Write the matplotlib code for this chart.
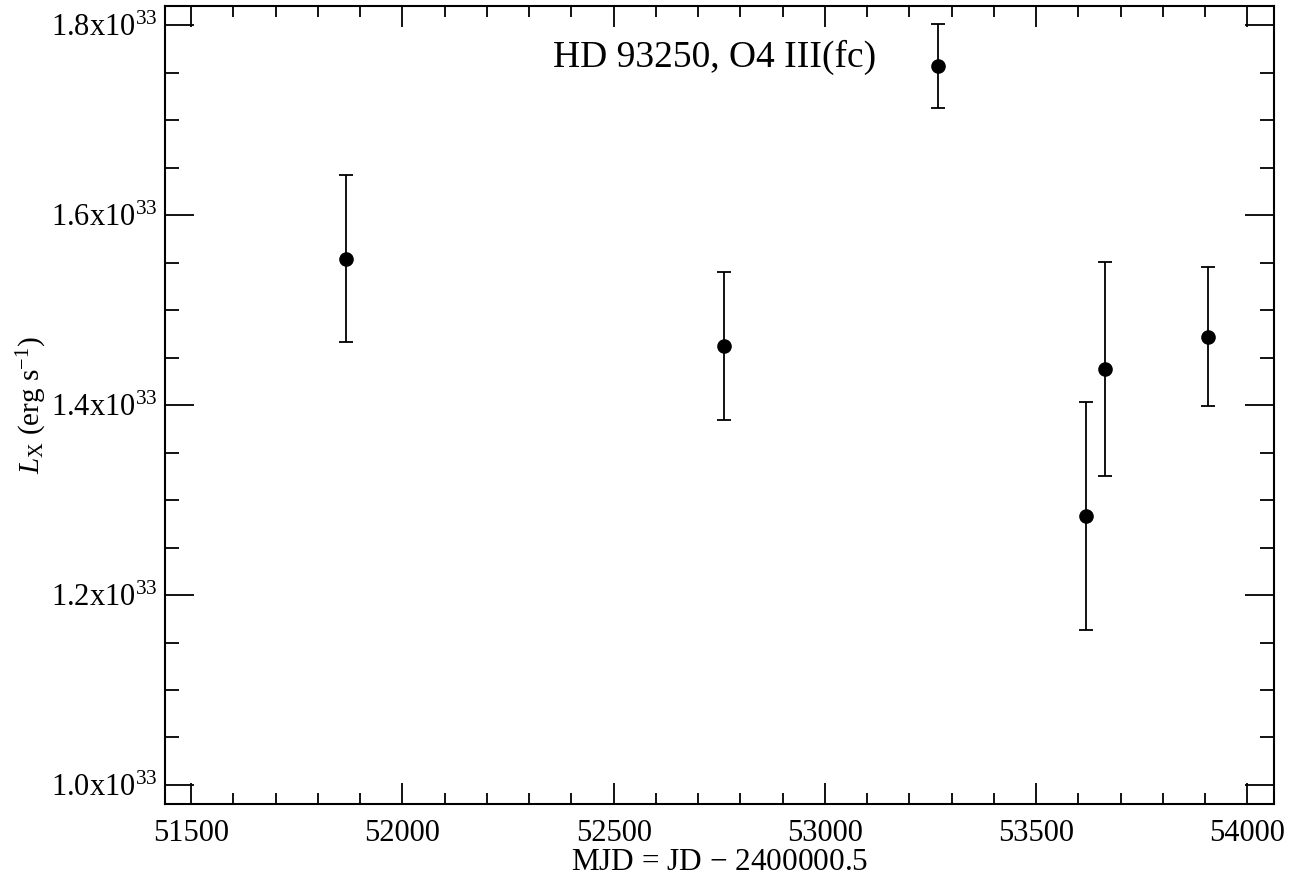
import matplotlib
matplotlib.use('Agg')
import matplotlib.pyplot as plt
from matplotlib.ticker import MultipleLocator, FuncFormatter

plt.rcParams['font.family'] = 'Liberation Serif'
plt.rcParams['mathtext.fontset'] = 'custom'
plt.rcParams['mathtext.rm'] = 'Liberation Serif'
plt.rcParams['mathtext.it'] = 'Liberation Serif:italic'

# Данные: MJD, L_X (1e33 erg/s) и ошибки
mjd = [51866, 52761, 53268, 53618, 53663, 53907]
lx = [1.554, 1.462, 1.757, 1.283, 1.438, 1.472]
lx_err = [0.088, 0.078, 0.044, 0.120, 0.113, 0.073]

fig = plt.figure(figsize=(12.96, 8.88), dpi=100)
ax = fig.add_axes([0.1273, 0.0946, 0.983 - 0.1273, 0.9932 - 0.0946])

ax.errorbar(mjd, lx, yerr=lx_err, fmt='o', color='black', markersize=9.5,
            elinewidth=1.3, capsize=5, capthick=1.3)

ax.set_xlim(51438, 54063)
ax.set_ylim(0.98, 1.82)

ax.xaxis.set_major_locator(MultipleLocator(500))
ax.xaxis.set_minor_locator(MultipleLocator(100))
ax.yaxis.set_major_locator(MultipleLocator(0.2))
ax.yaxis.set_minor_locator(MultipleLocator(0.05))
ax.yaxis.set_major_formatter(FuncFormatter(lambda v, p: '%.1fx10$^{33}$' % v))

ax.tick_params(which='both', direction='in', top=True, right=True,
               labelsize=22, width=1.3)
ax.tick_params(axis='x', which='major', length=15, pad=11)
ax.tick_params(axis='x', which='minor', length=8)
ax.tick_params(axis='y', which='major', length=21, pad=5)
ax.tick_params(axis='y', which='minor', length=10)
for s in ax.spines.values():
    s.set_linewidth(1.5)

ax.set_xlabel('MJD = JD $-$ 2400000.5', fontsize=22.5, labelpad=0)
ax.set_ylabel('$L_{\\rm X}$ (erg s$^{-1}$)', fontsize=21, labelpad=2)

ax.text(0.4955, 0.936, 'HD 93250, O4 III(fc)', transform=ax.transAxes,
        fontsize=27, ha='center', va='center')

plt.savefig('out.png', dpi=100)
